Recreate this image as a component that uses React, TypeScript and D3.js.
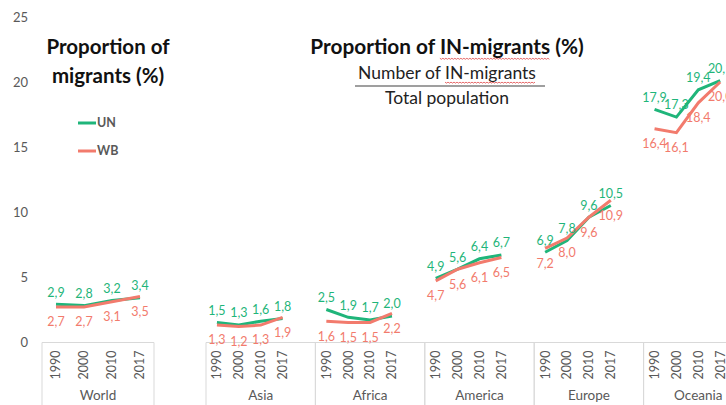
import React, { useLayoutEffect, useRef, useState } from 'react';
import * as d3 from 'd3';

// Proportion of migrants (%), UN vs WB estimates
const YEARS = ['1990', '2000', '2010', '2017'];
const REGIONS = ['Asia', 'Africa', 'America', 'Europe', 'Oceania'];
const WORLD_UN = [2.9, 2.8, 3.2, 3.4];
const WORLD_WB = [2.7, 2.7, 3.1, 3.5];
const REGION_UN = [
  [1.5, 1.3, 1.6, 1.8],
  [2.5, 1.9, 1.7, 2.0],
  [4.9, 5.6, 6.4, 6.7],
  [6.9, 7.8, 9.6, 10.5],
  [17.9, 17.3, 19.4, 20.1],
];
const REGION_WB = [
  [1.3, 1.2, 1.3, 1.9],
  [1.6, 1.5, 1.5, 2.2],
  [4.7, 5.6, 6.1, 6.5],
  [7.2, 8.0, 9.6, 10.9],
  [16.4, 16.1, 18.4, 20.0],
];
const Y_TICKS = [0, 5, 10, 15, 20, 25];

const W = 726;
const H = 405;
const UN_COLOR = '#1fb57a';
const WB_COLOR = '#f27b6d';
const AXIS_COLOR = '#d9d9d9';
const TEXT_GRAY = '#595959';
const FONT = 'Lato, "Open Sans", sans-serif';

const fmt = (v: number) => v.toFixed(1).replace('.', ',');

// spell-check squiggle under a tspan
function squiggle(el: SVGTSpanElement | null, dy: number): string {
  if (!el) return '';
  const n = el.getNumberOfChars();
  const x0 = el.getStartPositionOfChar(0).x;
  const x1 = el.getEndPositionOfChar(n - 1).x;
  const y0 = el.getStartPositionOfChar(0).y + dy;
  const pts: [number, number][] = [];
  for (let x = x0, k = 0; x <= x1; x += 1.5, k++) pts.push([x, y0 + (k % 2 ? 1 : 0)]);
  return d3.line()(pts) || '';
}

export default function App() {
  const titleRef = useRef<SVGTSpanElement>(null);
  const subRef = useRef<SVGTSpanElement>(null);
  const [waves, setWaves] = useState<string[]>([]);

  useLayoutEffect(() => {
    setWaves([squiggle(titleRef.current, 4), squiggle(subRef.current, 3)]);
  }, []);

  const y = d3.scaleLinear().domain([0, 25]).range([342, 17]);
  const axisY = 342.5;

  // World: its own band of 4 slots
  const xWorld = d3.scaleBand<string>().domain(YEARS).range([42, 154]);
  // Regions: 5 slots per region (4 years + an empty slot)
  const slots: string[] = [];
  REGIONS.forEach(r => {
    YEARS.forEach(yr => slots.push(`${r}-${yr}`));
    slots.push(`${r}-gap`);
  });
  const xReg = d3.scaleBand<string>().domain(slots).range([206, 206 + 5 * 109.4]);

  const line = d3.line<[number, number]>().x(d => d[0]).y(d => d[1]);

  type Group = { name: string; xs: number[]; un: number[]; wb: number[]; left: number; right: number };
  const groups: Group[] = [
    {
      name: 'World',
      xs: YEARS.map(yr => xWorld(yr)! + xWorld.bandwidth() / 2),
      un: WORLD_UN,
      wb: WORLD_WB,
      left: xWorld.range()[0],
      right: xWorld.range()[1],
    },
    ...REGIONS.map((r, i) => ({
      name: r,
      xs: YEARS.map(yr => xReg(`${r}-${yr}`)! + xReg.bandwidth() / 2),
      un: REGION_UN[i],
      wb: REGION_WB[i],
      left: xReg(`${r}-1990`)!,
      right: xReg(`${r}-gap`)! + xReg.bandwidth(),
    })),
  ];

  return (
    <svg
      width={W}
      height={H}
      viewBox={`0 0 ${W} ${H}`}
      style={{ position: 'absolute', left: 0, top: 0, background: '#fff', fontFamily: FONT }}
    >
      {/* y tick labels */}
      {Y_TICKS.map(t => (
        <text key={t} x={28} y={y(t)} dy="0.35em" textAnchor="end" fontSize={13} fill={TEXT_GRAY}>
          {t}
        </text>
      ))}

      {/* category axis boxes */}
      <line x1={42} x2={154} y1={axisY} y2={axisY} stroke={AXIS_COLOR} />
      <line x1={206} x2={W} y1={axisY} y2={axisY} stroke={AXIS_COLOR} />
      {groups.map(g => (
        <g key={`box-${g.name}`}>
          <line x1={g.left} x2={g.left} y1={axisY} y2={H} stroke={AXIS_COLOR} />
          <line x1={g.right} x2={g.right} y1={axisY} y2={H} stroke={AXIS_COLOR} />
          {g.xs.map((x, i) => (
            <text
              key={i}
              transform={`translate(${x},365) rotate(-90)`}
              textAnchor="middle"
              dy="0.35em"
              fontSize={12.5}
              fill={TEXT_GRAY}
            >
              {YEARS[i]}
            </text>
          ))}
          <text x={(g.left + g.right) / 2} y={400} textAnchor="middle" fontSize={13.5} fill={TEXT_GRAY}>
            {g.name}
          </text>
        </g>
      ))}

      {/* lines and labels */}
      {groups.map(g => (
        <g key={`series-${g.name}`}>
          <path
            d={line(g.xs.map((x, i) => [x, y(g.un[i])]))!}
            fill="none"
            stroke={UN_COLOR}
            strokeWidth={3}
          />
          <path
            d={line(g.xs.map((x, i) => [x, y(g.wb[i])]))!}
            fill="none"
            stroke={WB_COLOR}
            strokeWidth={3}
          />
          {g.xs.map((x, i) => (
            <text key={`un${i}`} x={x} y={y(g.un[i]) - 12} dy="0.35em" textAnchor="middle" fontSize={12.5} fill={UN_COLOR}>
              {fmt(g.un[i])}
            </text>
          ))}
          {g.xs.map((x, i) => (
            <text key={`wb${i}`} x={x} y={y(g.wb[i]) + 15} dy="0.35em" textAnchor="middle" fontSize={12.5} fill={WB_COLOR}>
              {fmt(g.wb[i])}
            </text>
          ))}
        </g>
      ))}

      {/* left title */}
      <text x={108} y={47} dy="0.35em" textAnchor="middle" fontSize={20.5} fontWeight="bold" fill="#111">
        Proportion of
      </text>
      <text x={108} y={76} dy="0.35em" textAnchor="middle" fontSize={20.5} fontWeight="bold" fill="#111">
        migrants (%)
      </text>

      {/* legend */}
      <line x1={78} x2={96} y1={123} y2={123} stroke={UN_COLOR} strokeWidth={3} />
      <text x={97} y={123} dy="0.35em" fontSize={12.5} fontWeight="bold" fill={TEXT_GRAY}>UN</text>
      <line x1={78} x2={96} y1={151} y2={151} stroke={WB_COLOR} strokeWidth={3} />
      <text x={97} y={151} dy="0.35em" fontSize={12.5} fontWeight="bold" fill={TEXT_GRAY}>WB</text>

      {/* right title with fraction */}
      <text x={447} y={47} dy="0.35em" textAnchor="middle" fontSize={20.8} fontWeight="bold" fill="#111">
        Proportion of <tspan ref={titleRef}>IN-migrants</tspan> (%)
      </text>
      <text x={447} y={73} dy="0.35em" textAnchor="middle" fontSize={17.5} fill="#222">
        Number of <tspan ref={subRef}>IN-migrants</tspan>
      </text>
      {waves.map((d, i) => (
        <path key={i} d={d} fill="none" stroke="#e04646" strokeWidth={0.8} />
      ))}
      <line x1={355} x2={545} y1={86} y2={86} stroke="#7f7f7f" strokeWidth={1.5} />
      <text x={447} y={98} dy="0.35em" textAnchor="middle" fontSize={17.5} fill="#222">
        Total population
      </text>
    </svg>
  );
}
